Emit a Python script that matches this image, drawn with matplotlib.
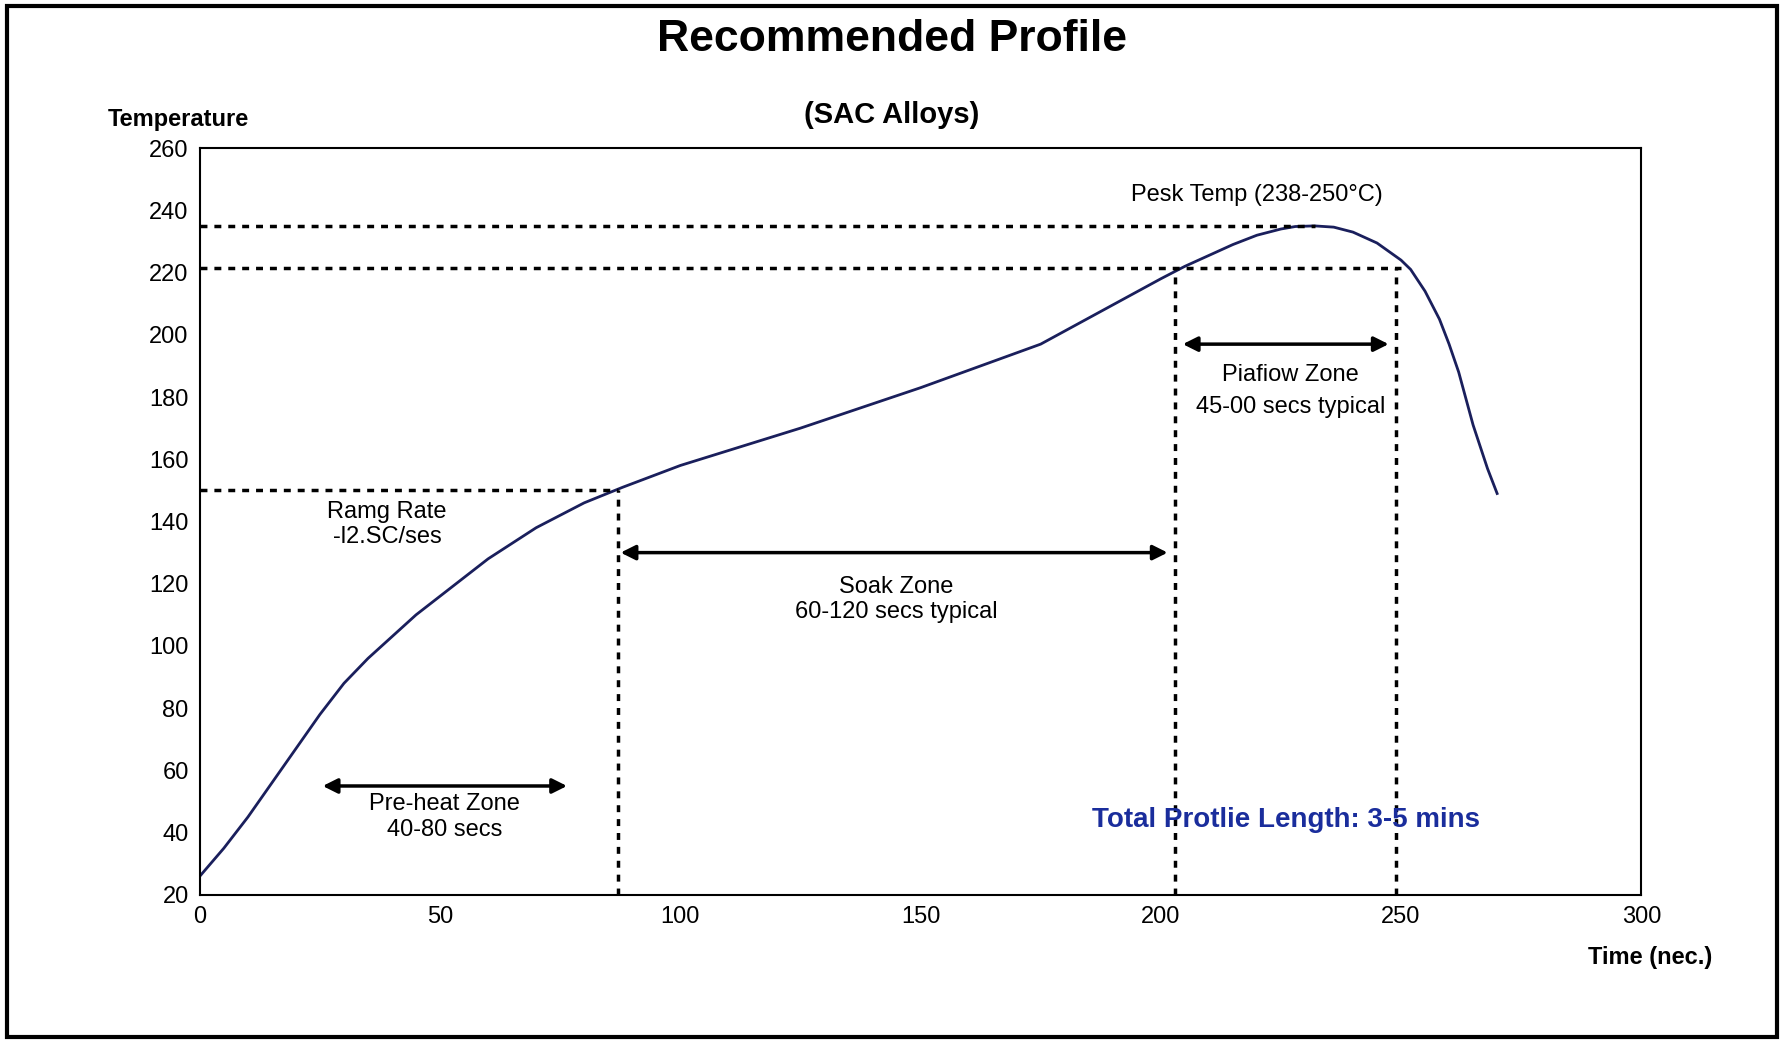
import matplotlib.pyplot as plt
from matplotlib.patches import Rectangle

# Profile curve (time in s, temperature in °C)
time_s = [0, 5, 10, 15, 20, 25, 30, 35, 40, 45, 50, 60, 70, 80, 88, 100, 125, 150, 175, 200,
          205, 210, 215, 220, 225, 228, 232, 236, 240, 245, 250, 252, 255, 258, 260, 262, 265, 268, 270]
temp_c = [26, 35, 45, 56, 67, 78, 88, 96, 103, 110, 116, 128, 138, 146, 151, 158, 170, 183, 197, 218,
          222, 225.5, 229, 232, 234, 234.8, 235, 234.6, 233, 229.5, 224, 221, 214, 205, 197, 188, 171, 157, 149]

x_ticks = [0, 50, 100, 150, 200, 250, 300]
y_ticks = [20, 40, 60, 80, 100, 120, 140, 160, 180, 200, 220, 240, 260]

fig = plt.figure(figsize=(17.84, 10.43), dpi=100)
plt.rcParams['font.family'] = ['Liberation Sans', 'DejaVu Sans']
ax = fig.add_axes([0.112, 0.142, 0.808, 0.716])

ax.plot(time_s, temp_c, color='#1a1f5c', linewidth=2)
ax.set_xlim(0, 300)
ax.set_ylim(20, 260)
ax.set_xticks(x_ticks)
ax.set_yticks(y_ticks)
ax.tick_params(labelsize=17, length=0, pad=8)
for s in ax.spines.values():
    s.set_linewidth(1.5)

dot = dict(color='black', linestyle=(0, (2, 2)), linewidth=2.5)
ax.plot([0, 232], [235, 235], **dot)
ax.plot([0, 250], [221.5, 221.5], **dot)
ax.plot([0, 87], [150, 150], **dot)
ax.plot([87, 87], [20, 150], **dot)
ax.plot([203, 203], [20, 221.5], **dot)
ax.plot([249, 249], [20, 221.5], **dot)

arrow = dict(arrowstyle='<|-|>', color='black', lw=2.5, mutation_scale=22)
ax.annotate('', xy=(25, 55), xytext=(77, 55), arrowprops=arrow)
ax.annotate('', xy=(87, 130), xytext=(202, 130), arrowprops=arrow)
ax.annotate('', xy=(204, 197), xytext=(248, 197), arrowprops=arrow)

tk = dict(fontsize=17, ha='center', va='center')
ax.text(51, 45, 'Pre-heat Zone\n40-80 secs', **tk)
ax.text(145, 115, 'Soak Zone\n60-120 secs typical', **tk)
ax.text(227, 182, 'Piafiow Zone\n45-00 secs typical', linespacing=1.6, **tk)
ax.text(39, 139, 'Ramg Rate\n-l2.SC/ses', **tk)
ax.text(220, 245, 'Pesk Temp (238-250°C)', **tk)
ax.text(226, 44, 'Total Protlie Length: 3-5 mins', fontsize=20, fontweight='bold',
        color='#1a2d9c', ha='center', va='center')

fig.text(0.5, 0.962, 'Recommended Profile', fontsize=32, fontweight='bold', ha='center', va='center')
fig.text(0.5, 0.89, '(SAC Alloys)', fontsize=21, fontweight='bold', ha='center', va='center')
fig.text(0.10, 0.885, 'Temperature', fontsize=17, fontweight='bold', ha='center', va='center')
fig.text(0.925, 0.082, 'Time (nec.)', fontsize=17, fontweight='bold', ha='center', va='center')

fig.patches.append(Rectangle((0.004, 0.006), 0.992, 0.988, transform=fig.transFigure,
                             fill=False, edgecolor='black', linewidth=3))

fig.savefig('out.png', dpi=100)
